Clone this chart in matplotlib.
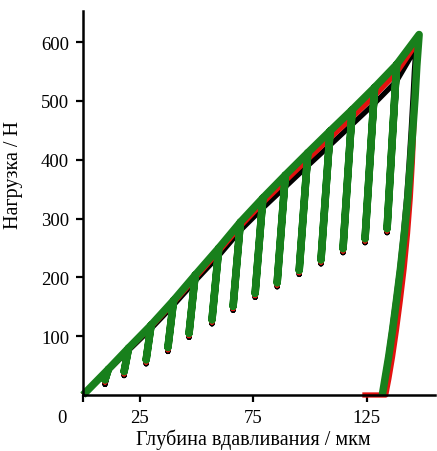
import matplotlib
matplotlib.use("Agg")
import matplotlib.pyplot as plt
from matplotlib.transforms import blended_transform_factory

plt.rcParams['font.family'] = ['Liberation Serif', 'DejaVu Serif']

# ---- data (depth in um, load in N) ----
peak_depth = [11.2, 20.1, 30.0, 39.9, 49.4, 59.8, 69.3, 79.2, 89.1, 99.0, 108.8, 118.5, 128.4, 138.1]
end_depth = [9.7, 18.1, 27.8, 37.4, 46.7, 56.8, 66.1, 75.8, 85.5, 95.2, 104.8, 114.5, 124.2, 133.9]

green_peak = [44, 80, 119, 161, 204, 250, 294, 335, 374, 412, 449, 485, 523, 562]
red_peak = [43, 78, 116, 157, 199, 244, 287, 327, 364, 401, 437, 472, 509, 548]
black_peak = [42, 76, 113, 153, 194, 237, 280, 318, 354, 390, 425, 460, 496, 534]

green_end = [26, 40, 60, 81, 105, 128, 151, 173, 191, 212, 230, 249, 266, 283]
red_end = [22, 36, 56, 77, 101, 124, 147, 169, 187, 208, 226, 245, 262, 279]
black_end = [18, 33, 53, 74, 98, 121, 144, 166, 184, 205, 223, 242, 259, 276]

green_final_x = [148.0, 147.0, 146.2, 145.2, 144.2, 143.0, 141.5, 139.8, 138.0, 136.3, 134.6, 133.0, 131.8]
green_final_y = [613, 560, 505, 450, 395, 335, 275, 215, 160, 110, 65, 28, 0]
red_final_x = [147.4, 146.8, 146.2, 145.6, 145.0, 144.1, 142.9, 141.4, 139.7, 138.0, 136.3, 134.7, 133.3, 123.0]
red_final_y = [601, 550, 500, 450, 395, 335, 275, 215, 160, 110, 65, 28, 0, 0]
black_final_x = [146.6, 145.9, 145.3, 144.5, 143.6, 142.5, 141.1, 139.5, 137.7, 136.0, 134.4, 132.9, 131.9]
black_final_y = [590, 550, 505, 450, 395, 335, 275, 215, 160, 110, 65, 28, 0]

x_ticks = [0, 25, 75, 125]
x_ticklabels = ['', '25', '75', '125']
y_ticks = [100, 200, 300, 400, 500, 600]


def build(peaks, ends, fx, fy):
    xs, ys = [0.0], [0.0]
    for xp, yp, xb, yb in zip(peak_depth, peaks, end_depth, ends):
        xs += [xp, xb, xp]
        ys += [yp, yb, yp]
    xs += list(fx)
    ys += list(fy)
    return xs, ys


fig = plt.figure(figsize=(4.37, 4.52), dpi=100)
ax = fig.add_axes([83 / 437, 56 / 452, 352 / 437, 384 / 452])

series = [
    (black_peak, black_end, black_final_x, black_final_y, '#000000', 3.8),
    (red_peak, red_end, red_final_x, red_final_y, '#e3120f', 3.8),
    (green_peak, green_end, green_final_x, green_final_y, '#18801c', 5.4),
]
for pk, en, fx, fy, col, lw in series:
    xs, ys = build(pk, en, fx, fy)
    ax.plot(xs, ys, color=col, lw=lw, solid_joinstyle='round', solid_capstyle='butt', clip_on=False)

ax.set_xlim(0, 155)
ax.set_ylim(0, 653)
for s in ['top', 'right']:
    ax.spines[s].set_visible(False)
for s in ['left', 'bottom']:
    ax.spines[s].set_linewidth(1.8)
    ax.spines[s].set_zorder(5)

ax.set_xticks(x_ticks)
ax.set_xticklabels(x_ticklabels)
ax.set_yticks(y_ticks)
ax.tick_params(axis='both', direction='out', length=5, width=1.6, labelsize=13.5, pad=5)

trans = blended_transform_factory(ax.transData, ax.transAxes)
zero_lbl = ax.text(-9.3, 0.0, '0', transform=trans, ha='center', va='top', fontsize=13.5)
# put the lone "0" at the same height as the x tick labels
fig.canvas.draw()
bb = ax.get_xticklabels()[1].get_window_extent()
ytop = ax.transAxes.inverted().transform((0, bb.y1))[1]
zero_lbl.set_position((-9.3, ytop))

ax.set_xlabel('Глубина вдавливания / мкм', fontsize=14.5)
ax.xaxis.set_label_coords(0.484, -0.088)
ax.set_ylabel('Нагрузка / Н', fontsize=14.5)
ax.yaxis.set_label_coords(-0.17, 0.575)

fig.savefig('out.png', dpi=100)
